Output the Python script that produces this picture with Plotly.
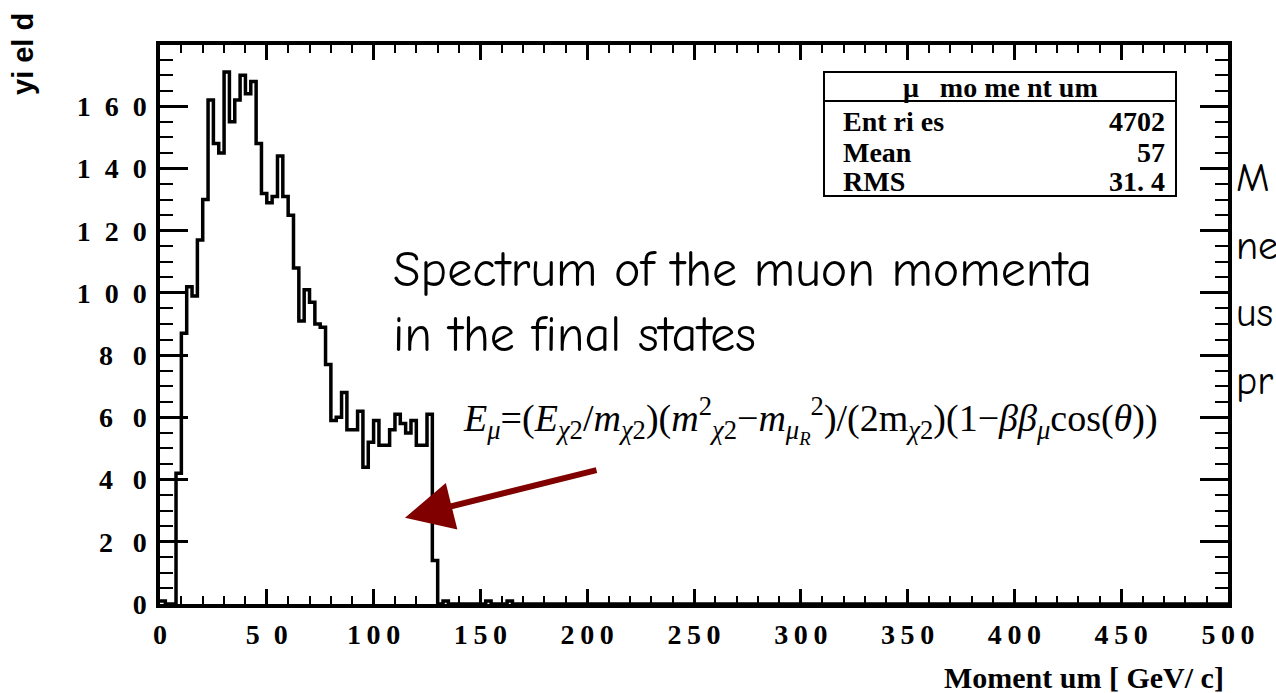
import numpy as np
import plotly.graph_objects as go

# ---- histogram definition: 200 bins of 2.5 GeV/c between 0 and 500 ----
x_low, x_high, n_bins = 0.0, 500.0, 200
filled_counts = [1, 0, 0, 42, 87, 102, 99, 117, 130, 162,
                 148, 145, 171, 155, 162, 170, 164, 168, 148, 132,
                 129, 131, 144, 131, 125, 108, 91, 101, 97, 90,
                 89, 77, 59, 60, 68, 56, 56, 62, 44, 52,
                 59, 51, 51, 56, 61, 58, 55, 59, 51, 51,
                 61, 14, 0, 1, 0, 0, 0, 0, 0, 0,
                 0, 1, 0, 0, 0, 1]
counts = filled_counts + [0] * (n_bins - len(filled_counts))

# statistics box contents
hist_name = "μ\u2002 mo me nt um"
stat_labels = ["Ent ri es", "Mean", "RMS"]
stat_values = ["4702", "57", "31. 4"]

# axis ticks
TS, ES = "\u2009", "\u2002"
x_tick_vals = [0, 50, 100, 150, 200, 250, 300, 350, 400, 450, 500]
x_tick_text = ["0", "5" + ES + "0"] + [TS.join(str(v)) for v in x_tick_vals[2:]]
y_tick_vals = [0, 20, 40, 60, 80, 100, 120, 140, 160]
y_tick_text = ["0"] + [(ES + TS).join(str(v)) for v in y_tick_vals[1:5]] + \
              [ES.join(str(v)) for v in y_tick_vals[5:]]
y_max = 179.7

# ---- figure geometry (pixels) ----
W, H = 1276, 693
ML, MR, MT, MB = 160, 48, 45, 89
PW, PH = W - ML - MR, H - MT - MB


def px(xp):
    return (xp - ML) / PW


def py(yp):
    return (H - MB - yp) / PH


edges = np.linspace(x_low, x_high, n_bins + 1)
step_y = counts + [counts[-1]]

fig = go.Figure()
fig.add_trace(go.Scatter(
    x=edges, y=step_y, mode="lines", line_shape="hv",
    line=dict(color="black", width=3.5), showlegend=False, hoverinfo="skip"))

serif_bold = dict(family="Liberation Serif, Times New Roman, serif", color="black", weight="bold")
hand = "Comic Sans MS, Comic Neue, Noto Sans, sans-serif"

fig.update_layout(
    width=W, height=H, margin=dict(l=ML, r=MR, t=MT, b=MB),
    paper_bgcolor="white", plot_bgcolor="white",
    xaxis=dict(range=[x_low, x_high], tickvals=x_tick_vals, ticktext=x_tick_text,
               ticks="inside", ticklen=15, tickwidth=2.5, tickcolor="black",
               minor=dict(dtick=10, tick0=0, ticks="inside", ticklen=8, tickwidth=2, tickcolor="black"),
               showline=True, linewidth=3.5, linecolor="black", mirror="allticks",
               showgrid=False, zeroline=False, tickfont=dict(size=28, **serif_bold),
               ticklabelstandoff=3),
    yaxis=dict(range=[0, y_max], tickvals=y_tick_vals, ticktext=y_tick_text,
               ticks="inside", ticklen=28, tickwidth=2.5, tickcolor="black",
               minor=dict(dtick=5, tick0=0, ticks="inside", ticklen=13, tickwidth=2, tickcolor="black"),
               showline=True, linewidth=3.5, linecolor="black", mirror="allticks",
               showgrid=False, zeroline=False, tickfont=dict(size=28, **serif_bold),
               ticklabelstandoff=4),
)

ann = []
# axis titles
ann.append(dict(text="Moment um [ GeV/ c]", xref="paper", yref="paper", x=px(1226), y=py(677),
                xanchor="right", yanchor="middle", showarrow=False,
                font=dict(size=30, **serif_bold)))
ann.append(dict(text="yi el d", xref="paper", yref="paper", x=px(23), y=py(54),
                xanchor="center", yanchor="middle", textangle=-90, showarrow=False,
                font=dict(size=29, family="Liberation Sans, Arial, sans-serif", color="black", weight="bold")))

# statistics box
box_l, box_r, box_t, box_b, head_b = 824, 1176, 72, 196, 101
shapes = [
    dict(type="rect", xref="paper", yref="paper", x0=px(box_l), x1=px(box_r), y0=py(box_b), y1=py(box_t),
         line=dict(color="black", width=2), fillcolor="white", layer="above"),
    dict(type="line", xref="paper", yref="paper", x0=px(box_l), x1=px(box_r), y0=py(head_b), y1=py(head_b),
         line=dict(color="black", width=2), layer="above"),
]
ann.append(dict(text=hist_name, xref="paper", yref="paper", x=px((box_l + box_r) / 2), y=py(87),
                xanchor="center", yanchor="middle", showarrow=False, font=dict(size=28, **serif_bold)))
row_y = [121, 152, 181]
for lab, val, ry in zip(stat_labels, stat_values, row_y):
    ann.append(dict(text=lab, xref="paper", yref="paper", x=px(841), y=py(ry), xanchor="left",
                    yanchor="middle", showarrow=False, font=dict(size=28, **serif_bold)))
    ann.append(dict(text=val, xref="paper", yref="paper", x=px(1167), y=py(ry), xanchor="right",
                    yanchor="middle", showarrow=False, font=dict(size=28, **serif_bold)))

# slide text
ann.append(dict(text="Spectrum of the muon momenta", xref="paper", yref="paper", x=px(391), y=py(270),
                xanchor="left", yanchor="middle", showarrow=False, font=dict(size=50, family=hand, color="black")))
ann.append(dict(text="in the final states", xref="paper", yref="paper", x=px(391), y=py(335),
                xanchor="left", yanchor="middle", showarrow=False, font=dict(size=50, family=hand, color="black")))
for frag, ry in zip(["M", "ne", "us", "pr"], [178, 246, 313, 381]):
    ann.append(dict(text=frag, xref="paper", yref="paper", x=px(1234), y=py(ry),
                    xanchor="left", yanchor="middle", showarrow=False,
                    font=dict(size=40, family=hand, color="black")))

formula = ("<i>E</i><sub><i>μ</i></sub>=(<i>E</i><sub><i>χ</i>2</sub>/<i>m</i><sub><i>χ</i>2</sub>)"
           "(<i>m</i><sup>2</sup><sub><i>χ</i>2</sub>−<i>m</i><sub><i>μ</i><sub><i>R</i></sub></sub><sup>2</sup>)"
           "/(2m<sub><i>χ</i>2</sub>)(1−<i>ββ</i><sub><i>μ</i></sub>cos(<i>θ</i>))")
ann.append(dict(text=formula, xref="paper", yref="paper", x=px(461), y=py(420),
                xanchor="left", yanchor="middle", showarrow=False,
                font=dict(size=38, family="Liberation Serif, Times New Roman, serif", color="black")))

# arrow pointing at the upper edge of the spectrum
ann.append(dict(text="", x=114.7, y=27.7, xref="x", yref="y", ax=193, ay=-48,
                showarrow=True, arrowhead=2, arrowsize=1.6, arrowwidth=6, arrowcolor="#800000",
                standoff=0))

fig.update_layout(annotations=ann, shapes=shapes)
fig.write_html("out.html")
